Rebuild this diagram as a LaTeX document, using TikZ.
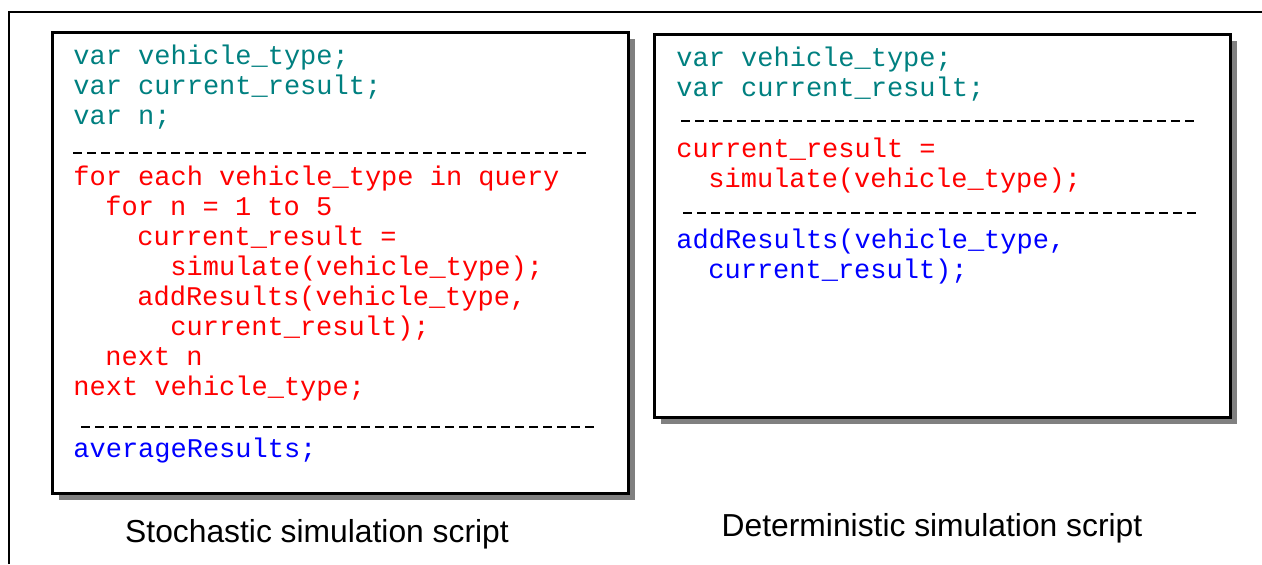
\documentclass[tikz,border=0pt]{standalone}
\usepackage{fontspec}
\setmainfont{Liberation Sans}
\setmonofont{Liberation Mono}
\usepackage{xcolor}
\usepackage{tikz}

\definecolor{vartext}{RGB}{0,128,128}
\definecolor{looptext}{RGB}{255,0,0}
\definecolor{calltext}{RGB}{0,0,255}
\definecolor{shadowgray}{RGB}{128,128,128}

\tikzset{
    code/.style={anchor=base west, inner sep=0pt, font=\ttfamily\fontsize{13.5}{15}\selectfont},
    caption/.style={anchor=base, inner sep=0pt, font=\fontsize{15.9}{18}\selectfont},
    box/.style={draw=black, line width=1.5pt, fill=white},
    boxshadow/.style={fill=shadowgray},
    divider/.style={line width=1.3pt, dash pattern=on 4.5pt off 2.5pt}
}

\begin{document}
\begin{tikzpicture}[x=0.5pt, y=-0.5pt]
        \useasboundingbox (0,0) rectangle (1262,564);

        \coordinate (F) at (9,12);
        \coordinate (Fr) at (1262,12);
        \coordinate (Fd) at (9,564);

        \coordinate (S) at (52,32);
        \coordinate (Sb) at (628,493);
        \coordinate (D) at (654,34);
        \coordinate (Db) at (1230,417);

        \coordinate (Sa) at (73,153);
        \coordinate (Sar) at (588,153);
        \coordinate (Sc) at (81,427);
        \coordinate (Scr) at (597,427);
        \coordinate (Da) at (681,121);
        \coordinate (Dar) at (1198,121);
        \coordinate (Dc) at (683,213);
        \coordinate (Dcr) at (1200,213);

        \draw[line width=1pt] (Fd) -- (F) -- (Fr);

        \fill[boxshadow] ([shift={(7,7)}]S) rectangle ([shift={(7,7)}]Sb);
        \filldraw[box] (S) rectangle (Sb);
        \fill[boxshadow] ([shift={(7,7)}]D) rectangle ([shift={(7,7)}]Db);
        \filldraw[box] (D) rectangle (Db);

        % stochastic script
        \node[code, vartext] (s1) at (73,64) {var vehicle\_type;};
        \node[code, vartext] (s2) at (73,94) {var current\_result;};
        \node[code, vartext] (s3) at (73,124) {var n;};
        \draw[divider] (Sa) -- (Sar);
        \node[code, looptext] (s4) at (73,185) {for each vehicle\_type in query};
        \node[code, looptext] (s5) at (105,215) {for n = 1 to 5};
        \node[code, looptext] (s6) at (137,245) {current\_result =};
        \node[code, looptext] (s7) at (170,275) {simulate(vehicle\_type);};
        \node[code, looptext] (s8) at (137,305) {addResults(vehicle\_type,};
        \node[code, looptext] (s9) at (170,335) {current\_result);};
        \node[code, looptext] (s10) at (105,365) {next n};
        \node[code, looptext] (s11) at (73,395) {next vehicle\_type;};
        \draw[divider] (Sc) -- (Scr);
        \node[code, calltext] (s12) at (73,457) {averageResults;};

        % deterministic script
        \node[code, vartext] (d1) at (676,66) {var vehicle\_type;};
        \node[code, vartext] (d2) at (676,96) {var current\_result;};
        \draw[divider] (Da) -- (Dar);
        \node[code, looptext] (d3) at (676,157) {current\_result =};
        \node[code, looptext] (d4) at (708,187) {simulate(vehicle\_type);};
        \draw[divider] (Dc) -- (Dcr);
        \node[code, calltext] (d5) at (676,248) {addResults(vehicle\_type,};
        \node[code, calltext] (d6) at (708,278) {current\_result);};

        \node[caption] (stoch) at (317,542) {Stochastic simulation script};
        \node[caption] (determ) at (932,536) {Deterministic simulation script};
    \end{tikzpicture}
\end{document}
